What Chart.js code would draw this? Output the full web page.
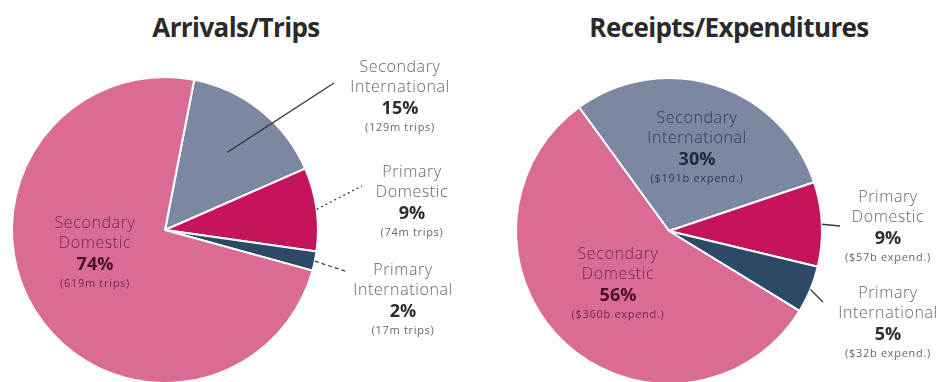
<!DOCTYPE html>
<html>
<head>
<meta charset="utf-8">
<script src="https://cdn.jsdelivr.net/npm/chart.js@4.4.1/dist/chart.umd.min.js"></script>
<style>
  html, body { margin: 0; padding: 0; background: #fff; overflow: hidden; }
  body { width: 947px; height: 382px; position: relative; }
  .titulo { position: absolute; top: 9px; width: 340px; margin: 0; text-align: center;
            font: bold 26px "Open Sans", sans-serif; color: #2a2a2a; letter-spacing: -0.6px; }
  .caixa { position: absolute; top: 0; height: 400px; }
</style>
</head>
<body>
<h2 class="titulo" style="left:66px">Arrivals/Trips</h2>
<h2 class="titulo" style="left:559px">Receipts/Expenditures</h2>
<div class="caixa" style="left:0; width:470px"><canvas id="pizzaViagens"></canvas></div>
<div class="caixa" style="left:470px; width:477px"><canvas id="pizzaGastos"></canvas></div>
<script>
// categorias e valores
const categorias = ["Secondary International", "Primary Domestic", "Primary International", "Secondary Domestic"];
const viagensM = [129, 74, 17, 619];   // milhões de viagens
const gastosB = [191, 57, 32, 360];    // bilhões de dólares
const cores = ["#7c87a1", "#c4145c", "#2c4a66", "#d96b95"];

// posição dos rótulos (coordenadas do canvas)
const rotulosViagens = [
  { x: 400, y: 67, fora: true, linha: { f: 0.65, x: 334, y: 83, dash: [] } },
  { x: 412, y: 172, fora: true, linha: { f: 1.0, x: 362, y: 186, dash: [2, 3] } },
  { x: 403, y: 270, fora: true, linha: { f: 1.0, x: 348, y: 272, dash: [4, 3] } },
  { x: 95, y: 223, cor: "#74284f", corPct: "#4a1030" }
];
const rotulosGastos = [
  { x: 227, y: 118, cor: "#343a4e", corPct: "#23283a" },
  { x: 418, y: 197, fora: true, linha: { f: 1.0, x: 370, y: 226, dash: [] } },
  { x: 418, y: 293, fora: true, linha: { f: 1.0, x: 353, y: 302, dash: [] } },
  { x: 148, y: 254, cor: "#74284f", corPct: "#4a1030" }
];

const rotulosPizza = {
  id: "rotulosPizza",
  afterDatasetsDraw(chart, args, opts) {
    const ctx = chart.ctx;
    const arcos = chart.getDatasetMeta(0).data;
    const valores = chart.data.datasets[0].data;
    const total = valores.reduce((a, b) => a + b, 0);
    ctx.save();
    arcos.forEach((arco, i) => {
      const r = opts.itens[i];
      if (r.linha) {
        const meio = (arco.startAngle + arco.endAngle) / 2;
        const x0 = arco.x + Math.cos(meio) * arco.outerRadius * r.linha.f;
        const y0 = arco.y + Math.sin(meio) * arco.outerRadius * r.linha.f;
        ctx.beginPath();
        ctx.setLineDash(r.linha.dash);
        ctx.strokeStyle = "#3a3a3a";
        ctx.lineWidth = 1.3;
        ctx.moveTo(x0, y0);
        ctx.lineTo(r.linha.x, r.linha.y);
        ctx.stroke();
        ctx.setLineDash([]);
      }
      const nomes = chart.data.labels[i].split(" ");
      const cor = r.cor || "#666666";
      ctx.textAlign = "center";
      ctx.textBaseline = "middle";
      ctx.fillStyle = cor;
      ctx.letterSpacing = "0.6px";
      ctx.font = '300 16px "Open Sans", sans-serif';
      ctx.fillText(nomes[0], r.x, r.y);
      ctx.fillText(nomes[1], r.x, r.y + 20);
      ctx.letterSpacing = "0px";
      ctx.fillStyle = r.corPct || "#2e2e2e";
      ctx.font = 'bold 18px "Open Sans", sans-serif';
      ctx.fillText(Math.round(valores[i] / total * 100) + "%", r.x, r.y + 42);
      ctx.fillStyle = cor;
      ctx.letterSpacing = "0.7px";
      ctx.font = '11px "Open Sans", sans-serif';
      ctx.fillText(opts.nota(valores[i]), r.x, r.y + 61);
      ctx.letterSpacing = "0px";
    });
    ctx.restore();
  }
};

function criarPizza(id, valores, rotacao, padding, itens, nota) {
  new Chart(document.getElementById(id), {
    type: "pie",
    data: {
      labels: categorias,
      datasets: [{ data: valores, backgroundColor: cores, borderColor: "#ffffff", borderWidth: 2 }]
    },
    options: {
      responsive: true,
      maintainAspectRatio: false,
      animation: false,
      rotation: rotacao,
      layout: { padding: padding },
      plugins: {
        legend: { display: false },
        tooltip: { enabled: false },
        rotulosPizza: { itens: itens, nota: nota }
      }
    },
    plugins: [rotulosPizza]
  });
}

criarPizza("pizzaViagens", viagensM, 11, { left: 11, right: 151, top: 76, bottom: 16 },
  rotulosViagens, v => "(" + v + "m trips)");
criarPizza("pizzaGastos", gastosB, -36, { left: 45, right: 124, top: 77, bottom: 15 },
  rotulosGastos, v => "($" + v + "b expend.)");
</script>
</body>
</html>
